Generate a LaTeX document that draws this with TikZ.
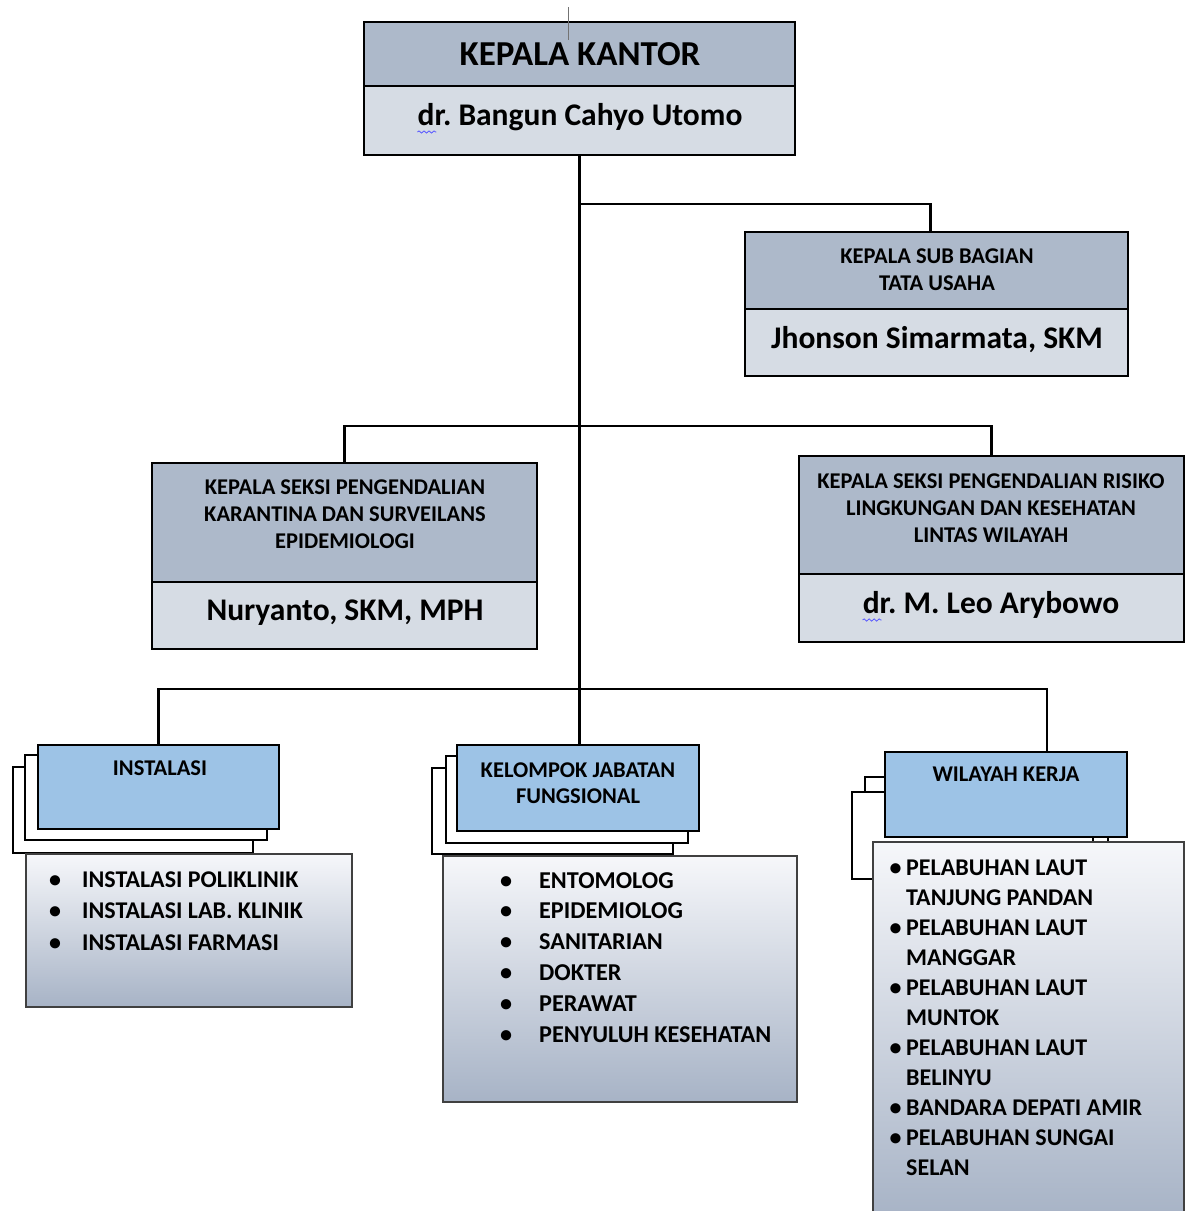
\documentclass[tikz,border=0pt]{standalone}
\usepackage{fontspec}
\setmainfont{Carlito}
\usetikzlibrary{calc,decorations.pathmorphing}
\definecolor{hdr}{HTML}{ADB9CA}
\definecolor{nm}{HTML}{D6DCE4}
\definecolor{lblue}{HTML}{9DC3E6}
\definecolor{gtop}{HTML}{F6F7FA}
\definecolor{gbot}{HTML}{A7B3C6}
\newcommand\mlines[1]{\begin{tabular}[t]{@{}c@{}}#1\end{tabular}}
\newcommand\llines[1]{\begin{tabular}[t]{@{}l@{}}#1\end{tabular}}
\newcommand\bul[1]{\llap{\makebox[0pt]{•}\hspace{#1}}}
\frenchspacing
\begin{document}
\begin{tikzpicture}[x=1pt,y=-1pt,
  box/.style={draw=black, line width=2.6pt, inner sep=0pt, outer sep=0pt, anchor=north west},
  hdrbox/.style={box, fill=hdr},
  nmbox/.style={box, fill=nm},
  frontbox/.style={box, fill=lblue},
  backbox/.style={box, fill=white},
  listbox/.style={draw=black!75, line width=1.4pt, inner sep=0pt, outer sep=0pt, anchor=north west, top color=gtop, bottom color=gbot},
  conn/.style={line width=2.4pt, draw=black},
  smalltxt/.style={font=\bfseries\fontsize{22.5}{27}\selectfont, inner sep=0pt, anchor=base},
  nametxt/.style={font=\bfseries\fontsize{31.5}{38}\selectfont, inner sep=0pt, anchor=base},
  itemtxt/.style={inner sep=0pt, anchor=base west},
  wavy/.style={draw=blue!65!white, line width=0.8pt, decorate, decoration={snake, amplitude=1.1pt, segment length=5pt}}
]
\useasboundingbox (0,0) rectangle (1186,1211);

% ---- Kepala Kantor
\node[hdrbox, minimum width=431pt, minimum height=64pt] (kkt) at (364,22) {};
\node[nmbox, minimum width=431pt, minimum height=69pt] (kkn) at (364,86) {};
\node[font=\bfseries\fontsize{35}{42}\selectfont, inner sep=0pt, anchor=base] (kkt-t) at (580,65) {KEPALA KANTOR};
\node[nametxt] (kkn-t) at (580,125) {dr. Bangun Cahyo Utomo};
\coordinate (stub) at (568,7);
\draw[line width=1pt, draw=black!55] (stub) -- ++(0,33);

% ---- Tata Usaha
\node[hdrbox, minimum width=383pt, minimum height=77pt] (tuh) at (745,232) {};
\node[nmbox, minimum width=383pt, minimum height=67pt] (tun) at (745,309) {};
\node[smalltxt] (tuh-t) at (937,263) {\mlines{KEPALA SUB BAGIAN\\TATA USAHA}};
\node[nametxt] (tun-t) at (937,348) {Jhonson Simarmata, SKM};

% ---- Karantina
\node[hdrbox, minimum width=385pt, minimum height=119pt] (karh) at (152,463) {};
\node[nmbox, minimum width=385pt, minimum height=67pt] (karn) at (152,582) {};
\node[smalltxt] (karh-t) at (345,494) {\mlines{KEPALA SEKSI PENGENDALIAN\\KARANTINA DAN SURVEILANS\\EPIDEMIOLOGI}};
\node[nametxt] (karn-t) at (345,620) {Nuryanto, SKM, MPH};

% ---- Risiko
\node[hdrbox, minimum width=385pt, minimum height=118pt] (rish) at (799,456) {};
\node[nmbox, minimum width=385pt, minimum height=68pt] (risn) at (799,574) {};
\node[smalltxt] (rish-t) at (991,488) {\mlines{KEPALA SEKSI PENGENDALIAN RISIKO\\LINGKUNGAN DAN KESEHATAN\\LINTAS WILAYAH}};
\node[nametxt] (risn-t) at (991,613) {dr. M. Leo Arybowo};

% ---- Instalasi
\node[backbox, minimum width=240pt, minimum height=86pt] (instb3) at (13,767) {};
\node[backbox, minimum width=242pt, minimum height=85pt] (instb2) at (25,755) {};
\node[frontbox, minimum width=241pt, minimum height=84pt] (instf) at (38,745) {};
\node[listbox, minimum width=326pt, minimum height=153pt] (instl) at (26,854) {};
\node[smalltxt] (instf-t) at (160,775) {INSTALASI};
\node[itemtxt, font=\bfseries\fontsize{24}{31.5}\selectfont] (instl-t) at (82,887)
  {\llines{\bul{27pt}INSTALASI POLIKLINIK\\ \bul{27pt}INSTALASI LAB. KLINIK\\ \bul{27pt}INSTALASI FARMASI}};

% ---- Kelompok Jabatan Fungsional
\node[backbox, minimum width=241pt, minimum height=86pt] (kelb3) at (432,768) {};
\node[backbox, minimum width=242pt, minimum height=87pt] (kelb2) at (446,756) {};
\node[frontbox, minimum width=242pt, minimum height=86pt] (kelf) at (457,745) {};
\node[listbox, minimum width=354pt, minimum height=246pt] (kell) at (443,856) {};
\node[smalltxt, font=\bfseries\fontsize{22.5}{26}\selectfont] (kelf-t) at (578,777) {\mlines{KELOMPOK JABATAN\\FUNGSIONAL}};
\node[itemtxt, font=\bfseries\fontsize{24.2}{30.8}\selectfont] (kell-t) at (539,888)
  {\llines{\bul{33pt}ENTOMOLOG\\ \bul{33pt}EPIDEMIOLOG\\ \bul{33pt}SANITARIAN\\ \bul{33pt}DOKTER\\ \bul{33pt}PERAWAT\\ \bul{33pt}PENYULUH KESEHATAN}};

% ---- Wilayah Kerja
\node[backbox, minimum width=243pt, minimum height=85pt] (wilb2) at (865,777) {};
\node[backbox, minimum width=241pt, minimum height=87pt] (wilb3) at (852,792) {};
\node[frontbox, minimum width=242pt, minimum height=85pt] (wilf) at (885,752) {};
\node[listbox, minimum width=311pt, minimum height=376pt] (will) at (873,842) {};
\node[smalltxt] (wilf-t) at (1006,781) {WILAYAH KERJA};
\node[itemtxt, font=\bfseries\fontsize{24}{30}\selectfont] (will-t) at (906,875)
  {\llines{\bul{10.5pt}PELABUHAN LAUT\\ TANJUNG PANDAN\\ \bul{10.5pt}PELABUHAN LAUT\\ MANGGAR\\ \bul{10.5pt}PELABUHAN LAUT\\ MUNTOK\\ \bul{10.5pt}PELABUHAN LAUT\\ BELINYU\\ \bul{10.5pt}BANDARA DEPATI AMIR\\ \bul{10.5pt}PELABUHAN SUNGAI\\ SELAN}};

% ---- Connectors
\draw[conn] (kkn.south) -- (kkn.south |- kelf.north);
\draw[conn] (kkn.south |- 0,204) -| ($(tuh.north)+(-6,0)$);
\draw[conn] (karh.north) -- ++(0,-37) -| (rish.north);
\draw[conn] (instf.north) -- ++(0,-56) -| ($(wilf.north)+(41,0)$);

% ---- spell-check underlines
\draw[wavy] ($(kkn-t.base west)+(0,7)$) -- ++(19,0);
\draw[wavy] ($(risn-t.base west)+(0,7)$) -- ++(19,0);
\end{tikzpicture}
\end{document}
